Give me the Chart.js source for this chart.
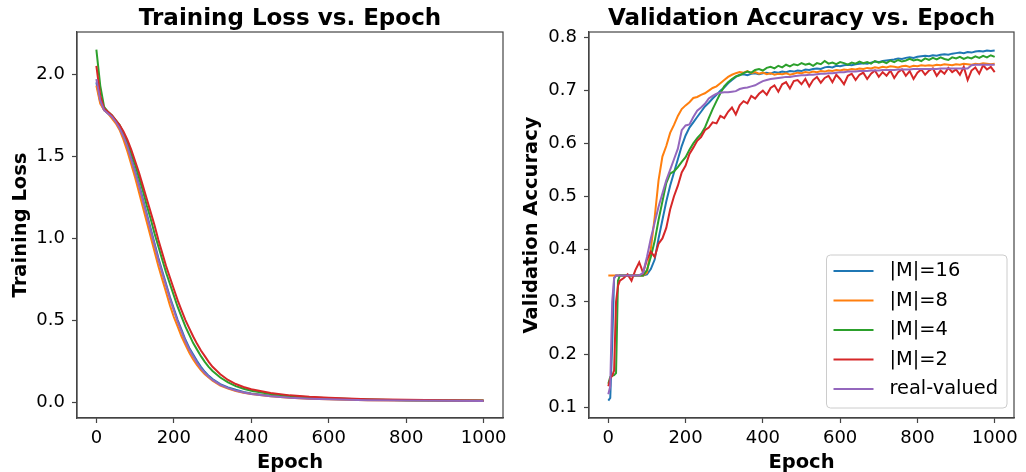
<!DOCTYPE html>
<html>
<head>
<meta charset="utf-8">
<script src="https://cdn.jsdelivr.net/npm/chart.js@4"></script>
<style>
  html, body { margin: 0; padding: 0; background: #fff; overflow: hidden; }
  #wrap { position: relative; width: 1026px; height: 472px; overflow: hidden; }
  canvas { position: absolute; top: 0; }
</style>
</head>
<body>
<div id="wrap">
  <canvas id="lossChart" width="513" height="490" style="left:0"></canvas>
  <canvas id="accChart" width="513" height="490" style="left:513px"></canvas>
</div>
<script>
// series names and colours (matplotlib tab10)
const seriesLabels = ["|M|=16", "|M|=8", "|M|=4", "|M|=2", "real-valued"];
const seriesColors = ["#1f77b4", "#ff7f0e", "#2ca02c", "#d62728", "#9467bd"];

const epochTicks = [0, 200, 400, 600, 800, 1000];
const lossTicks = [0, 0.5, 1.0, 1.5, 2.0];
const accTicks = [0.1, 0.2, 0.3, 0.4, 0.5, 0.6, 0.7, 0.8];

// Training loss
const lossEpochs = [0,10,20,30,40,50,60,70,80,90,100,110,120,130,140,150,160,170,180,190,
  200,210,220,230,240,250,260,270,280,290,300,320,340,360,380,400,450,500,550,600,700,800,900,1000];
const lossM16 = [1.95,1.83,1.78,1.76,1.74,1.71,1.67,1.62,1.56,1.49,
  1.41,1.33,1.24,1.15,1.06,0.97,0.88,0.80,0.72,0.64,
  0.57,0.50,0.44,0.38,0.33,0.29,0.25,0.215,0.185,0.16,
  0.14,0.11,0.09,0.075,0.062,0.053,0.038,0.029,0.023,0.019,0.014,0.011,0.009,0.008];
const lossM8 = [1.93,1.82,1.78,1.76,1.73,1.70,1.66,1.60,1.53,1.45,
  1.37,1.28,1.19,1.10,1.01,0.92,0.83,0.75,0.67,0.59,
  0.52,0.46,0.40,0.35,0.30,0.26,0.225,0.195,0.17,0.15,
  0.13,0.10,0.082,0.068,0.057,0.049,0.035,0.027,0.021,0.017,0.012,0.010,0.008,0.007];
const lossM4 = [2.15,1.93,1.80,1.77,1.75,1.72,1.69,1.64,1.58,1.52,
  1.45,1.37,1.29,1.20,1.12,1.03,0.95,0.87,0.79,0.72,
  0.65,0.58,0.52,0.46,0.41,0.36,0.32,0.28,0.245,0.215,
  0.19,0.15,0.12,0.097,0.081,0.069,0.049,0.037,0.029,0.023,0.016,0.012,0.010,0.009];
const lossM2 = [2.05,1.87,1.79,1.77,1.75,1.72,1.69,1.65,1.60,1.54,
  1.47,1.40,1.32,1.24,1.16,1.08,0.99,0.91,0.83,0.76,
  0.69,0.62,0.56,0.50,0.45,0.40,0.355,0.315,0.28,0.245,
  0.215,0.17,0.135,0.11,0.092,0.078,0.055,0.041,0.032,0.026,0.018,0.014,0.011,0.010];
const lossReal = [1.97,1.84,1.78,1.76,1.74,1.71,1.67,1.62,1.56,1.48,
  1.40,1.32,1.23,1.14,1.05,0.96,0.87,0.79,0.71,0.63,
  0.56,0.49,0.43,0.37,0.32,0.28,0.24,0.205,0.178,0.155,
  0.135,0.105,0.085,0.07,0.058,0.05,0.036,0.027,0.021,0.017,0.012,0.009,0.008,0.007];

// Validation accuracy
const valEpochs = [0,5,10,15,20,25,30,
  40,50,60,70,80,90,100,110,120,130, 140,150,160,170,180,190,200,210,220,230,
  240,250,260,270,280,290,300,310,320,330, 340,350,360,370,380,390,400,410,420,430,
  440,450,460,470,480,490,500,510,520,530, 540,550,560,570,580,590,600,610,620,630,
  640,650,660,670,680,690,700,710,720,730, 740,750,760,770,780,790,800,810,820,830,
  840,850,860,870,880,890,900,910,920,930, 940,950,960,970,980,990,1000];
const accM16 = [0.113,0.118,0.22,0.345,0.35,0.35,0.35,
  0.35,0.35,0.35,0.35,0.35,0.35,0.352,0.362,0.38,0.42,
  0.455,0.49,0.52,0.545,0.57,0.595,0.615,0.63,0.64,0.65,
  0.66,0.67,0.677,0.685,0.692,0.70,0.706,0.714,0.72,0.726,
  0.73,0.731,0.729,0.732,0.733,0.731,0.733,0.734,0.732,0.735,
  0.734,0.736,0.735,0.737,0.736,0.738,0.737,0.74,0.739,0.741,
  0.742,0.741,0.744,0.745,0.744,0.747,0.746,0.748,0.749,0.748,
  0.75,0.751,0.752,0.751,0.753,0.755,0.754,0.756,0.757,0.758,
  0.759,0.761,0.76,0.762,0.763,0.762,0.764,0.765,0.766,0.765,
  0.767,0.766,0.768,0.769,0.768,0.77,0.771,0.772,0.771,0.773,
  0.772,0.774,0.775,0.774,0.776,0.775,0.776];
const accM8 = [0.35,0.35,0.35,0.35,0.35,0.35,0.35,
  0.35,0.35,0.35,0.35,0.35,0.35,0.355,0.40,0.46,0.53,
  0.575,0.595,0.62,0.635,0.652,0.665,0.672,0.678,0.686,0.688,
  0.692,0.695,0.70,0.705,0.708,0.714,0.72,0.726,0.73,0.733,
  0.735,0.734,0.737,0.733,0.735,0.732,0.734,0.731,0.733,0.73,
  0.732,0.731,0.733,0.73,0.732,0.734,0.733,0.735,0.734,0.736,
  0.735,0.737,0.736,0.738,0.737,0.739,0.738,0.74,0.739,0.741,
  0.74,0.742,0.741,0.743,0.742,0.744,0.743,0.745,0.744,0.746,
  0.745,0.744,0.746,0.747,0.745,0.747,0.746,0.748,0.747,0.748,
  0.747,0.749,0.748,0.75,0.749,0.748,0.75,0.749,0.751,0.75,
  0.749,0.751,0.75,0.752,0.751,0.75,0.751];
const accM4 = [0.145,0.158,0.16,0.161,0.165,0.34,0.35,
  0.35,0.35,0.35,0.35,0.35,0.35,0.36,0.385,0.415,0.455,
  0.49,0.525,0.543,0.547,0.555,0.565,0.574,0.588,0.60,0.61,
  0.618,0.63,0.648,0.665,0.68,0.695,0.708,0.716,0.722,0.727,
  0.729,0.733,0.736,0.734,0.739,0.741,0.738,0.743,0.745,0.742,
  0.747,0.744,0.749,0.746,0.75,0.748,0.752,0.749,0.751,0.747,
  0.752,0.75,0.756,0.751,0.753,0.75,0.754,0.752,0.749,0.753,
  0.751,0.755,0.752,0.754,0.751,0.756,0.753,0.755,0.752,0.757,
  0.754,0.758,0.755,0.757,0.76,0.757,0.759,0.756,0.761,0.758,
  0.762,0.759,0.763,0.76,0.758,0.763,0.761,0.764,0.76,0.763,
  0.761,0.765,0.762,0.766,0.763,0.767,0.764];
const accM2 = [0.14,0.155,0.16,0.17,0.30,0.33,0.34,
  0.345,0.352,0.34,0.36,0.375,0.355,0.38,0.395,0.385,0.41,
  0.42,0.44,0.475,0.50,0.52,0.545,0.558,0.58,0.592,0.605,
  0.612,0.625,0.63,0.64,0.638,0.652,0.648,0.66,0.668,0.655,
  0.672,0.68,0.676,0.69,0.685,0.694,0.70,0.692,0.705,0.71,
  0.698,0.712,0.716,0.704,0.718,0.72,0.712,0.722,0.708,0.72,
  0.726,0.715,0.724,0.728,0.716,0.73,0.722,0.712,0.728,0.732,
  0.72,0.73,0.734,0.722,0.732,0.738,0.726,0.735,0.728,0.738,
  0.724,0.735,0.74,0.728,0.737,0.722,0.734,0.74,0.73,0.738,
  0.742,0.728,0.738,0.732,0.743,0.735,0.74,0.73,0.745,0.72,
  0.738,0.744,0.732,0.748,0.74,0.745,0.735];
const accReal = [0.125,0.14,0.30,0.345,0.35,0.35,0.35,
  0.35,0.35,0.35,0.35,0.35,0.355,0.385,0.42,0.45,0.48,
  0.505,0.53,0.55,0.57,0.59,0.625,0.634,0.636,0.65,0.662,
  0.668,0.675,0.685,0.69,0.694,0.696,0.697,0.697,0.698,0.699,
  0.703,0.705,0.706,0.708,0.71,0.714,0.718,0.72,0.722,0.723,
  0.724,0.725,0.726,0.726,0.727,0.728,0.729,0.729,0.73,0.73,
  0.731,0.732,0.732,0.733,0.733,0.734,0.735,0.735,0.736,0.736,
  0.736,0.737,0.737,0.737,0.738,0.738,0.738,0.739,0.739,0.739,
  0.739,0.74,0.74,0.74,0.74,0.741,0.741,0.741,0.741,0.741,
  0.741,0.741,0.742,0.742,0.742,0.742,0.742,0.742,0.742,0.742,
  0.748,0.749,0.749,0.749,0.749,0.749,0.749];

Chart.defaults.font.family = '"DejaVu Sans", sans-serif';
Chart.defaults.color = "#000";
Chart.defaults.animation = false;

function makeDatasets(xs, allYs) {
  return allYs.map((ys, i) => ({
    label: seriesLabels[i],
    data: xs.map((x, k) => ({ x: x, y: ys[k] })),
    borderColor: seriesColors[i],
    backgroundColor: seriesColors[i],
    borderWidth: 2,
    pointRadius: 0,
    tension: 0,
    fill: false,
    order: allYs.length - 1 - i, // last series on top, like matplotlib
  }));
}

// full box around the plot, like matplotlib spines
const frame = {
  id: "frame",
  afterDatasetsDraw(chart) {
    const { ctx, chartArea: a } = chart;
    ctx.save();
    ctx.strokeStyle = "#444";
    ctx.lineWidth = 1.2;
    ctx.strokeRect(a.left, a.top, a.right - a.left, a.bottom - a.top);
    ctx.restore();
  },
};

// legend drawn inside the plot, lower right
const insideLegend = {
  id: "insideLegend",
  afterDraw(chart) {
    const { ctx, chartArea } = chart;
    const sets = chart.data.datasets;
    ctx.save();
    ctx.font = '19.4px "DejaVu Sans"';
    const textW = Math.max(...sets.map((d) => ctx.measureText(d.label).width));
    const rowH = 29.5;
    const w = textW + 72;
    const h = 16 + (sets.length - 1) * rowH + 19;
    const x = chartArea.right - 7 - w;
    const y = chartArea.bottom - 10 - h;
    ctx.fillStyle = "rgba(255,255,255,0.8)";
    ctx.strokeStyle = "#cccccc";
    ctx.lineWidth = 1;
    ctx.beginPath();
    ctx.roundRect(x, y, w, h, 4);
    ctx.fill();
    ctx.stroke();
    sets.forEach((d, i) => {
      const cy = y + 16 + i * rowH;
      ctx.strokeStyle = d.borderColor;
      ctx.lineWidth = 2;
      ctx.beginPath();
      ctx.moveTo(x + 7, cy);
      ctx.lineTo(x + 47, cy);
      ctx.stroke();
      ctx.fillStyle = "#000";
      ctx.textAlign = "left";
      ctx.textBaseline = "middle";
      ctx.fillText(d.label, x + 63, cy);
    });
    ctx.restore();
  },
};

function makeOptions(o) {
  return {
    responsive: false,
    animation: false,
    layout: { padding: { left: 0, right: o.padRight, top: 0, bottom: 0 } },
    plugins: {
      legend: { display: false },
      tooltip: { enabled: false },
      title: {
        display: true,
        text: o.title,
        fullSize: false,
        font: { size: 23, weight: "bold", lineHeight: 1.1 },
        color: "#000",
        padding: { top: 6, bottom: 0.7 },
      },
    },
    scales: {
      x: {
        type: "linear",
        min: -50,
        max: 1050,
        afterBuildTicks: (s) => { s.ticks = epochTicks.map((v) => ({ value: v })); },
        afterFit: (s) => { s.height = 72; },
        ticks: { font: { size: 18 }, color: "#000", padding: 5, maxRotation: 0, autoSkip: false,
          callback: (v) => String(v) },
        grid: { drawOnChartArea: false, drawTicks: true, tickLength: 5, tickColor: "#444", tickWidth: 1.2 },
        border: { display: true, color: "#444", width: 1.2 },
        title: { display: true, text: "Epoch", font: { size: 19.5, weight: "bold" }, color: "#000",
          padding: { top: 0, bottom: 15 } },
      },
      y: {
        type: "linear",
        min: o.yMin,
        max: o.yMax,
        afterBuildTicks: (s) => { s.ticks = o.yTicks.map((v) => ({ value: v })); },
        afterFit: (s) => { s.width = o.axisWidth; },
        ticks: { font: { size: 18 }, color: "#000", padding: 7, autoSkip: false,
          callback: (v) => Number(v).toFixed(1) },
        grid: { drawOnChartArea: false, drawTicks: true, tickLength: 5, tickColor: "#444", tickWidth: 1.2 },
        border: { display: true, color: "#444", width: 1.2 },
        title: { display: true, text: o.yLabel, font: { size: 19.5, weight: "bold" }, color: "#000",
          padding: { top: o.yTitlePad, bottom: 0 } },
      },
    },
  };
}

new Chart(document.getElementById("lossChart"), {
  type: "line",
  data: { datasets: makeDatasets(lossEpochs, [lossM16, lossM8, lossM4, lossM2, lossReal]) },
  options: makeOptions({
    title: "Training Loss vs. Epoch", yLabel: "Training Loss",
    yMin: -0.097, yMax: 2.257, yTicks: lossTicks,
    axisWidth: 77, yTitlePad: 9.3, padRight: 10,
  }),
  plugins: [frame],
});

new Chart(document.getElementById("accChart"), {
  type: "line",
  data: { datasets: makeDatasets(valEpochs, [accM16, accM8, accM4, accM2, accReal]) },
  options: makeOptions({
    title: "Validation Accuracy vs. Epoch", yLabel: "Validation Accuracy",
    yMin: 0.080, yMax: 0.811, yTicks: accTicks,
    axisWidth: 76, yTitlePad: 7.3, padRight: 12,
  }),
  plugins: [frame, insideLegend],
});
</script>
</body>
</html>
